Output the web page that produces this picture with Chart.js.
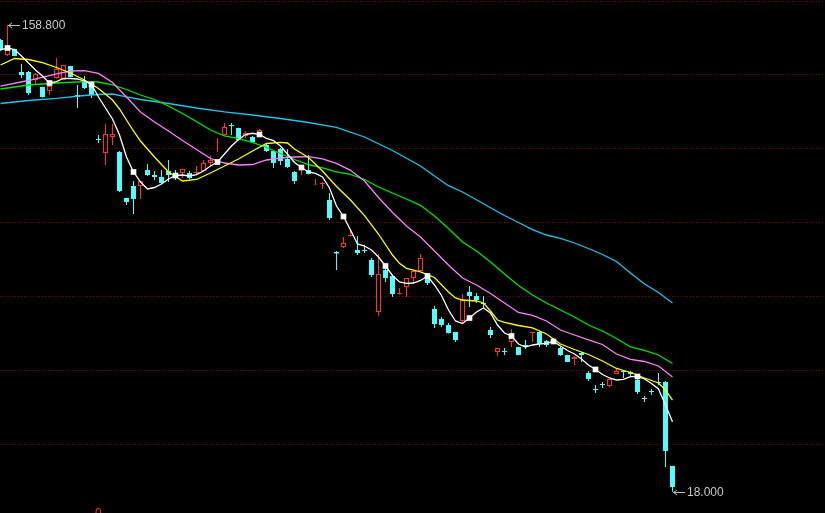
<!DOCTYPE html>
<html><head><meta charset="utf-8">
<script src="https://cdn.jsdelivr.net/npm/chart.js@4.4.0/dist/chart.umd.min.js"></script>
<style>html,body{margin:0;padding:0;background:#000;overflow:hidden}canvas{display:block}</style>
</head><body>
<canvas id="c" width="825" height="513"></canvas>
<script>
// Candle data (index 0..96)
const openP = [154.27,149.75,151.56,144.62,144.62,142.20,140.09,138.89,142.81,142.20,
146.43,137.68,141.60,141.00,124.41,120.18,125.01,120.48,106.61,110.23,
110.23,115.05,113.54,112.94,114.75,114.15,114.15,114.15,114.15,114.75,
117.16,123.35,125.61,128.63,127.72,125.31,125.01,125.91,122.59,120.78,
121.39,118.37,114.45,115.05,115.05,110.53,110.83,106.00,90.31,91.82,
95.14,90.92,90.92,87.90,72.21,84.88,83.07,77.64,79.75,82.47,
84.58,82.47,73.12,70.10,68.29,66.18,69.50,78.25,77.04,74.93,
66.78,60.15,60.45,63.16,61.65,62.26,65.88,66.18,63.46,64.07,
61.35,59.24,58.03,59.84,53.81,48.98,50.49,49.89,53.51,54.41,
54.11,51.70,46.27,48.38,51.09,51.09,25.75];
const highP = [154.57,158.80,151.60,147.03,144.92,144.32,140.20,141.00,148.84,146.80,
146.50,140.70,143.41,141.10,125.61,128.93,128.93,120.78,106.70,111.73,
111.80,116.86,114.75,115.05,118.07,115.05,115.40,114.75,116.26,118.07,
119.28,124.71,129.23,129.23,127.80,126.82,125.31,127.42,122.90,121.09,
121.69,121.39,114.75,116.56,119.58,112.34,111.43,108.11,90.61,94.84,
97.25,95.14,92.43,88.50,89.71,85.18,83.10,79.45,82.50,84.88,
89.71,83.98,74.02,70.70,68.89,66.20,77.64,80.06,77.94,77.04,
67.69,61.40,61.35,67.08,61.70,63.77,66.20,66.48,63.77,64.37,
61.65,59.30,58.94,60.15,54.41,50.19,51.09,52.10,55.32,54.50,
54.41,52.00,46.87,48.98,53.81,51.40,25.80];
const lowP = [150.95,149.45,149.40,142.81,137.68,140.70,136.90,137.68,142.60,142.10,
143.00,133.76,139.49,136.77,123.20,116.56,122.59,108.42,104.49,101.78,
106.30,113.24,112.03,111.00,111.43,112.03,112.64,112.34,113.54,114.70,
116.56,120.48,125.50,125.61,124.00,124.71,123.20,125.61,120.48,115.66,
116.56,115.66,110.83,113.54,113.70,110.50,109.32,99.97,84.88,91.52,
95.00,89.41,90.01,82.77,71.00,81.26,76.74,77.50,76.74,80.96,
84.50,80.36,67.39,67.69,65.70,63.16,68.59,73.72,74.93,73.42,
64.37,58.94,59.24,61.65,59.20,61.05,63.16,61.65,61.65,62.86,
58.94,57.10,56.22,57.13,51.40,47.78,49.28,49.59,53.40,52.30,
52.91,47.47,45.06,47.17,50.19,25.45,18.00];
const closeP = [151.26,151.86,149.45,143.71,138.28,144.01,137.08,140.39,145.52,146.73,
143.11,137.08,139.79,137.68,124.10,125.91,125.91,108.72,105.40,106.30,
111.73,113.54,112.94,111.13,113.54,112.94,115.35,112.64,114.45,117.16,
118.07,123.50,128.03,128.33,124.10,126.22,123.50,127.12,120.78,117.16,
117.77,115.96,111.73,115.96,113.85,110.68,111.13,100.57,89.86,93.03,
95.44,90.01,90.62,83.37,83.68,82.47,77.64,77.94,82.47,84.58,
88.50,80.96,68.59,68.29,65.88,63.77,75.83,77.04,75.83,74.63,
65.27,61.35,60.15,64.37,59.24,61.65,66.18,62.56,62.26,63.16,
59.24,57.13,58.64,59.24,52.00,48.68,50.19,52.00,54.41,54.11,
53.51,48.08,45.97,48.08,50.79,30.28,19.42];
// Moving averages
const ma5 = [151.26,151.86,151.41,149.45,147.33,145.22,143.41,141.30,141.69,142.72,
142.66,142.51,141.90,140.85,137.08,133.76,130.44,125.61,118.97,114.45,
111.43,109.32,109.77,110.83,112.34,113.39,113.54,113.24,113.69,114.75,
116.26,117.47,119.88,122.29,124.25,125.76,126.13,125.76,124.62,123.95,
122.29,119.88,117.32,115.81,114.45,114.00,112.94,109.62,104.19,101.02,
96.95,92.73,92.12,90.92,88.81,86.09,83.22,81.26,80.87,80.96,
81.72,83.07,80.36,77.19,72.82,69.50,68.74,70.40,72.21,73.42,
71.91,68.29,65.88,64.97,62.56,61.65,62.26,62.56,62.77,63.31,
61.95,60.60,59.54,58.03,56.22,54.87,53.36,52.30,51.70,51.91,
52.70,52.76,52.00,50.64,48.98,44.16,39.12];
const ma10 = [[0,146.73],[2,148.69],[4,148.39],[6,147.48],[8,145.98],[10,144.32],[12,142.20],[14,139.64],[16,136.17],[17,133.46],[18,130.14],[19,126.82],[20,123.80],[22,118.97],[24,114.45],[26,111.73],[28,112.19],[30,114.15],[32,116.26],[34,118.37],[36,120.78],[38,123.05],[40,123.38],[41,123.20],[42,121.39],[44,118.82],[46,114.75],[48,110.08],[50,106.00],[52,101.30],[54,95.74],[56,89.41],[57,86.90],[58,85.40],[60,84.34],[62,82.62],[64,78.25],[65,76.44],[66,75.83],[68,75.53],[69,74.93],[70,72.51],[71,69.80],[72,69.05],[74,68.14],[76,67.39],[78,65.58],[80,62.56],[82,60.90],[84,59.39],[86,57.43],[88,55.17],[90,53.96],[92,52.30],[94,50.79],[95,48.68],[96,45.66]];
const ma20 = [[0,140.39],[4,142.05],[8,144.08],[10,144.92],[12,145.01],[14,144.17],[16,141.45],[18,137.08],[20,132.55],[22,129.53],[24,126.82],[26,123.95],[28,121.24],[30,118.52],[32,117.16],[34,116.56],[36,116.71],[38,118.07],[40,118.67],[42,118.97],[44,119.07],[46,118.43],[48,117.07],[50,114.96],[52,111.73],[54,106.76],[56,102.23],[58,98.16],[60,94.84],[62,90.62],[64,86.39],[66,82.47],[68,80.36],[70,77.79],[72,74.93],[74,72.06],[76,71.16],[78,69.50],[80,66.78],[82,65.27],[84,63.77],[86,62.41],[88,59.54],[90,57.94],[92,57.28],[94,55.92],[96,52.60]];
const ma30 = [[0,139.49],[4,140.70],[8,141.30],[12,141.69],[14,141.60],[16,140.70],[18,139.34],[20,137.68],[22,136.32],[24,134.36],[26,132.10],[28,129.68],[30,127.12],[32,125.31],[34,124.50],[36,123.35],[38,121.84],[40,120.03],[42,118.22],[44,116.71],[46,115.66],[48,114.51],[50,113.70],[52,112.19],[54,109.92],[56,108.11],[58,106.30],[60,104.40],[62,101.17],[64,97.41],[66,93.33],[68,90.62],[70,87.30],[72,83.68],[74,80.21],[76,77.34],[78,74.93],[80,72.82],[82,70.70],[84,68.29],[86,66.48],[88,64.22],[90,61.65],[92,60.60],[94,59.24],[96,56.68]];
const ma60 = [[0,135.12],[4,136.02],[8,136.68],[12,137.53],[14,137.83],[16,137.98],[18,137.08],[20,136.32],[24,135.12],[28,133.76],[32,132.61],[36,131.65],[40,130.59],[44,129.38],[48,127.93],[52,125.01],[56,120.94],[60,116.26],[62,113.24],[64,110.32],[66,108.42],[68,106.06],[70,103.65],[72,101.33],[74,99.21],[76,97.07],[78,95.44],[80,94.39],[82,93.03],[84,91.37],[86,89.56],[88,87.45],[90,83.98],[92,80.66],[94,78.10],[96,74.93]];
const gridLevels = [166.04,144.01,121.69,99.36,77.04,54.71,32.39];

const RED = '#ff3232', CYAN = '#54fcfc';
const isUp = openP.map((o,i) => closeP[i] >= o);
const bodies = openP.map((o,i) => ({x:i, y:[o, closeP[i]]}));
const wicks = openP.map((o,i) => ({x:i, y:[lowP[i], highP[i]]}));
const pairs = arr => arr.map(p => ({x:p[0], y:p[1]}));
const lineDs = (label, data, color, extra) => Object.assign({type:'line', label, data, borderColor:color, borderWidth:1.3, pointRadius:0, tension:0, fill:false}, extra||{});

const deco = {
  id:'deco',
  beforeDatasetsDraw(chart){
    const {ctx, chartArea:a, scales:{y}} = chart;
    ctx.save();
    ctx.strokeStyle = '#800000'; ctx.lineWidth = 1; ctx.setLineDash([1,2]);
    gridLevels.forEach(v => {
      const py = Math.round(y.getPixelForValue(v)) + 0.5;
      ctx.beginPath(); ctx.moveTo(a.left, py); ctx.lineTo(a.right, py); ctx.stroke();
    });
    ctx.restore();
  },
  afterDatasetsDraw(chart){
    const {ctx, scales:{x,y}} = chart;
    let hi = 0, lo = 0;
    highP.forEach((v,i) => { if (v > highP[hi]) hi = i; });
    lowP.forEach((v,i) => { if (v < lowP[lo]) lo = i; });
    const tag = (i, v) => {
      const px = Math.round(x.getPixelForValue(i)) + 1;
      const py = Math.round(y.getPixelForValue(v)) + 0.5;
      ctx.save();
      ctx.strokeStyle = '#c0c0c0'; ctx.lineWidth = 1;
      ctx.beginPath(); ctx.moveTo(px, py); ctx.lineTo(px + 12, py); ctx.stroke();
      ctx.beginPath(); ctx.moveTo(px + 4, py - 2.5); ctx.lineTo(px + 0.5, py); ctx.lineTo(px + 4, py + 2.5); ctx.stroke();
      ctx.fillStyle = '#c8c8c8';
      ctx.font = '12px "Liberation Sans", Arial, sans-serif';
      ctx.textBaseline = 'middle';
      ctx.fillText(v.toFixed(3), px + 14, py);
      ctx.restore();
    };
    tag(hi, highP[hi]);
    tag(lo, lowP[lo]);
    ctx.save();
    ctx.fillStyle = RED;
    ctx.font = '12px "Liberation Sans", Arial, sans-serif';
    ctx.textBaseline = 'alphabetic';
    ctx.fillText('0', 95, 517);
    ctx.restore();
  }
};

new Chart(document.getElementById('c'), {
  type:'bar',
  data:{
    datasets:[
      lineDs('MA5', ma5.map((v,i)=>({x:i,y:v})), '#ffffff', {
        pointStyle:'rect',
        pointRadius: c => (c.dataIndex % 6 === 1 ? 4 : 0),
        pointBackgroundColor:'#ffffff', pointBorderWidth:0, pointBorderColor:'#ffffff'
      }),
      lineDs('MA10', pairs(ma10), '#ffff00'),
      lineDs('MA20', pairs(ma20), '#ff80ff'),
      lineDs('MA30', pairs(ma30), '#00e600'),
      lineDs('MA60', pairs(ma60), '#20c4e8'),
      {
        label:'body', data:bodies, grouped:false, barThickness:5, inflateAmount:0,
        backgroundColor: isUp.map(u => u ? '#000000' : CYAN),
        borderColor: isUp.map(u => u ? RED : CYAN),
        borderWidth: isUp.map(u => u ? 1 : 0),
        borderSkipped:false
      },
      {
        label:'wick', data:wicks, grouped:false, barThickness:1, inflateAmount:0,
        backgroundColor: isUp.map(u => u ? RED : CYAN), borderWidth:0
      }
    ]
  },
  options:{
    responsive:false, animation:false,
    layout:{padding:0},
    plugins:{legend:{display:false}, tooltip:{enabled:false}},
    scales:{
      x:{type:'linear', display:false, min:-0.0714, max:117.786, offset:false, grid:{display:false}},
      y:{type:'linear', display:false, min:11.57, max:166.34, grid:{display:false}}
    }
  },
  plugins:[deco]
});
</script>
</body></html>
